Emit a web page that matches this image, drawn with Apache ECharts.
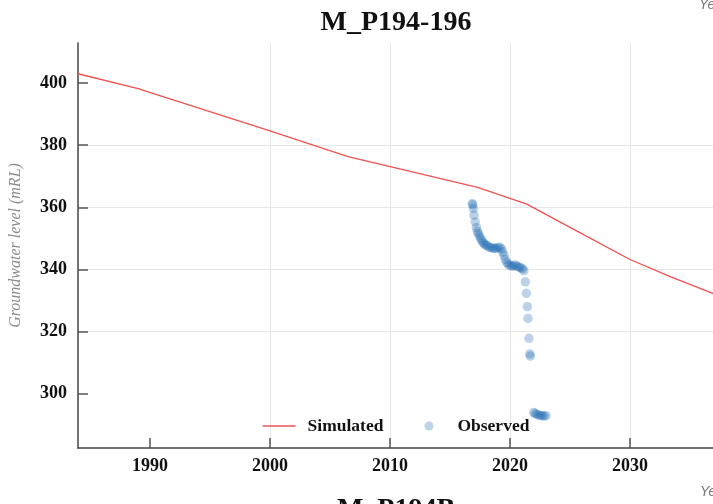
<!DOCTYPE html>
<html>
<head>
<meta charset="utf-8">
<script src="https://cdn.jsdelivr.net/npm/echarts@6/dist/echarts.min.js"></script>
<style>
html,body{margin:0;padding:0;overflow:hidden;background:#fff;width:713px;height:504px;}
#chart{width:792px;height:504px;}
</style>
</head>
<body>
<div id="chart"></div>
<script>
// Simulated groundwater level (year, mRL)
const simYears = [1984.0, 1989.0, 2000.0, 2006.5, 2015.9, 2017.3, 2021.4, 2025.7, 2030.0, 2033.4, 2036.9, 2041.0];
const simValues = [403.0, 398.2, 384.6, 376.3, 367.7, 366.4, 361.0, 352.1, 343.2, 337.6, 332.3, 326.4];

// Observed groundwater level (year, mRL)
const obsYears = [2016.85, 2016.9, 2016.95, 2017.0, 2017.1, 2017.2, 2017.28, 2017.35, 2017.45, 2017.55,
  2017.65, 2017.75, 2017.85, 2017.97, 2018.1, 2018.25, 2018.4, 2018.55, 2018.7, 2018.85,
  2019.0, 2019.15, 2019.3, 2019.4, 2019.5, 2019.6, 2019.72, 2019.85, 2020.0, 2020.15,
  2020.3, 2020.45, 2020.6, 2020.75, 2020.9, 2021.05, 2021.16, 2021.28, 2021.36, 2021.45,
  2021.5, 2021.58, 2021.65, 2021.7, 2021.98, 2022.1, 2022.25, 2022.4, 2022.55, 2022.7,
  2022.85, 2023.0];
const obsValues = [361.2, 360.8, 359.6, 357.5, 355.3, 353.5, 352.3, 351.6, 350.8, 350.0,
  349.3, 348.7, 348.2, 347.9, 347.6, 347.2, 347.0, 346.9, 346.8, 346.8,
  347.0, 347.1, 346.6, 345.6, 344.5, 343.2, 342.3, 341.7, 341.3, 341.0,
  341.2, 341.4, 341.0, 340.7, 340.5, 340.2, 339.6, 336.0, 332.3, 328.0,
  324.2, 317.8, 312.8, 312.1, 293.9, 293.6, 293.3, 293.1, 292.9, 292.9,
  292.8, 292.9];

const xTicks = [1990, 2000, 2010, 2020, 2030, 2040];
const yTicks = [300, 320, 340, 360, 380, 400];

const titleText = 'M_P194-196';
const nextTitleText = 'M_P194B';
const xName = 'Year';
const yName = 'Groundwater level (mRL)';

const serif = '"Liberation Serif", "DejaVu Serif", serif';

const chart = echarts.init(document.getElementById('chart'), null, {renderer: 'canvas'});
chart.setOption({
  animation: false,
  backgroundColor: '#ffffff',
  title: [
    {text: titleText, left: 'center', top: 4,
     textStyle: {fontFamily: serif, fontWeight: 'bold', fontSize: 28, color: '#111'}},
    {text: nextTitleText, left: 'center', top: 491,
     textStyle: {fontFamily: serif, fontWeight: 'bold', fontSize: 28, color: '#111'}}
  ],
  graphic: [
    {type: 'text', x: 699, y: -2, style: {text: xName, font: 'italic 14px "Liberation Sans", sans-serif', fill: '#777'}},
    {type: 'text', x: 700, y: 485, style: {text: xName, font: 'italic 14px "Liberation Sans", sans-serif', fill: '#777'}}
  ],
  legend: {
    left: 'center', top: 417, padding: 0,
    itemWidth: 33, itemHeight: 9, itemGap: 41,
    textStyle: {fontFamily: serif, fontWeight: 'bold', fontSize: 17.5, color: '#111', padding: [0, 0, 0, 7]},
    data: [
      {name: 'Simulated', icon: 'path://M0,0 L33,0 L33,1.3 L0,1.3 Z'},
      {name: 'Observed', icon: 'circle'}
    ]
  },
  grid: {left: 76, right: 30, top: 43, bottom: 56, containLabel: false},
  xAxis: {
    type: 'value', min: 1984, max: 2041,
    axisLine: {show: true, lineStyle: {color: '#444', width: 1.5}},
    axisTick: {show: true, inside: true, length: 10, customValues: xTicks, lineStyle: {color: '#555', width: 1.5}},
    axisLabel: {customValues: xTicks, margin: 9, fontFamily: serif, fontWeight: 'bold', fontSize: 18, color: '#111',
      formatter: v => String(v)},
    splitLine: {show: true, showMinLine: false, showMaxLine: false, lineStyle: {color: '#e6e6e6', width: 1}}
  },
  yAxis: {
    type: 'value', min: 282.5, max: 412.9, splitNumber: 6,
    name: yName, nameLocation: 'middle', nameGap: 54,
    nameTextStyle: {fontFamily: serif, fontStyle: 'italic', fontSize: 16, color: '#8c8c8c'},
    axisLine: {show: true, lineStyle: {color: '#444', width: 1.5}},
    axisTick: {show: true, inside: true, length: 10, customValues: yTicks, lineStyle: {color: '#555', width: 1.5}},
    axisLabel: {customValues: yTicks, margin: 11, fontFamily: serif, fontWeight: 'bold', fontSize: 18, color: '#111'},
    splitLine: {show: true, showMinLine: false, showMaxLine: false, lineStyle: {color: '#e6e6e6', width: 1}}
  },
  series: [
    {
      name: 'Simulated', type: 'line', symbol: 'none', smooth: false,
      lineStyle: {color: '#f25050', width: 1.3},
      itemStyle: {color: '#f25050'},
      data: simYears.map((y, i) => [y, simValues[i]]),
      z: 2
    },
    {
      name: 'Observed', type: 'scatter', symbol: 'circle', symbolSize: 9.5,
      itemStyle: {color: 'rgba(20,100,175,0.36)'},
      data: obsYears.map((y, i) => [y, obsValues[i]]),
      z: 3
    }
  ]
});
</script>
</body>
</html>
